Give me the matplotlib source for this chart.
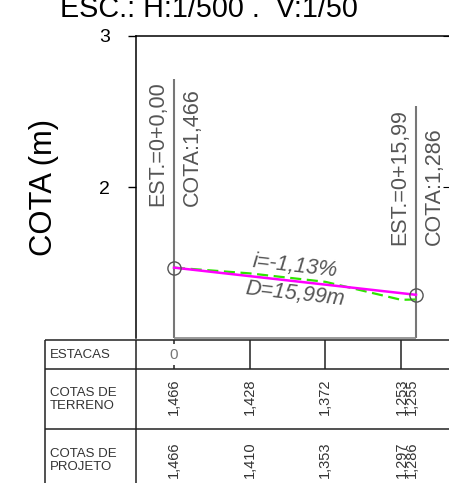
import numpy as np
import matplotlib
matplotlib.use("Agg")
import matplotlib.pyplot as plt

plt.rcParams['font.family'] = ['Liberation Sans', 'DejaVu Sans']

# dados do perfil
dist = [0, 5, 10, 15, 15.99]
cota_terreno = [1.466, 1.428, 1.372, 1.253, 1.255]
cota_projeto = [1.466, 1.410, 1.353, 1.297, 1.286]
estacas_x = [0, 5, 10, 15]
estacas_lbl = ['0', '', '', '']
pontos_x = [0, 15.99]
pontos_y = [1.466, 1.286]
est_lbl = ['EST.=0+0,00', 'EST.=0+15,99']
cota_lbl = ['COTA:1,466', 'COTA:1,286']
texto_base = [1.874, 1.616]
linha_topo = [2.715, 2.536]
inclinacao = 'i=-1,13%'
distancia = 'D=15,99m'
titulo = 'ESC.: H:1/500 .  V:1/50'

W, H = 449, 483
pxm = 242 / 15.99          # px por metro
x0 = 174                   # px da estaca 0

fig = plt.figure(figsize=(W / 100, H / 100), dpi=100)

# eixo da tabela (figura inteira, x em metros, y em px)
tab = fig.add_axes([0, 0, 1, 1])
tab.set_xlim(-x0 / pxm, (W - x0) / pxm)
tab.set_ylim(H, 0)
tab.axis('off')

# eixo principal
ax = fig.add_axes([136 / W, (H - 338) / H, (W - 136) / W, (338 - 36) / H])
ax.set_facecolor('none')
ax.set_xlim((136 - x0) / pxm, (W - x0) / pxm)
ax.set_ylim(1, 3)
ax.set_yticks([2, 3])
ax.set_xticks([])
ax.tick_params(axis='y', length=6, width=1, pad=13, labelsize=14)
for s in ['right', 'bottom']:
    ax.spines[s].set_visible(False)
for s in ['left', 'top']:
    ax.spines[s].set_linewidth(1.1)
sec = ax.secondary_yaxis('right')
sec.set_yticks([2, 3])
sec.tick_params(direction='in', length=4, labelright=False)
sec.spines['right'].set_visible(False)

# linhas das estacas
ax.vlines(pontos_x, 1, linha_topo, color='#777777', lw=1.5, zorder=1)
ax.hlines(1, pontos_x[0], pontos_x[1], color='#888888', lw=1.2, clip_on=False)

ax.plot(dist, cota_terreno, color='#2ee600', lw=1.6, dashes=(5, 2.5), zorder=3)
ax.plot(pontos_x, pontos_y, color='#ff00ff', lw=1.8, zorder=4)
ax.plot(pontos_x, pontos_y, 'o', mfc='none', mec='#555555', ms=9.5, mew=1, zorder=5)

for x, yb, e, c in zip(pontos_x, texto_base, est_lbl, cota_lbl):
    ax.annotate(e, (x, yb), xytext=(-11.5, 0), textcoords='offset points',
                rotation=90, ha='center', va='bottom', fontsize=15.5, color='#555555')
    ax.annotate(c, (x, yb), xytext=(13, 0), textcoords='offset points',
                rotation=90, ha='center', va='bottom', fontsize=15.5, color='#555555')

xm = np.mean(pontos_x)
ym = np.mean(pontos_y)
ang_d = np.degrees(np.arctan2(pontos_y[1] - pontos_y[0], pontos_x[1] - pontos_x[0]))
ang = ax.transData.transform_angles(np.array([ang_d]), np.array([[xm, ym]]))[0]
ax.annotate(inclinacao, (xm, ym), xytext=(0, 10.5), textcoords='offset points',
            rotation=ang, rotation_mode='anchor', ha='center', va='center',
            fontsize=15.5, style='italic', color='#555555')
ax.annotate(distancia, (xm, ym), xytext=(0, -9.5), textcoords='offset points',
            rotation=ang, rotation_mode='anchor', ha='center', va='center',
            fontsize=15.5, style='italic', color='#555555')

# tabela
xl = (45 - x0) / pxm
xa = (136 - x0) / pxm
xr = (W - x0) / pxm
tab.hlines([340, 369, 429], xl, xr, color='#222222', lw=1.1)
tab.vlines([xl, xa], 340, H, color='#222222', lw=1.1)
tab.vlines(estacas_x[1:], 340, 369, color='#222222', lw=1.1)
tab.vlines(estacas_x[0], 340, 344, color='#222222', lw=1.1)
tab.vlines(estacas_x[0], 365, 369, color='#222222', lw=1.1)
for x, l in zip(estacas_x, estacas_lbl):
    tab.text(x, 355, l, ha='center', va='center', fontsize=11, color='#777777')

tab.text(xl + 0.33, 354.5, 'ESTACAS', ha='left', va='center', fontsize=9.5, color='#333333')
tab.text(xl + 0.33, 399.5, 'COTAS DE\nTERRENO', ha='left', va='center', fontsize=9.5,
         color='#333333', linespacing=1.15)
tab.text(xl + 0.33, 460.5, 'COTAS DE\nPROJETO', ha='left', va='center', fontsize=9.5,
         color='#333333', linespacing=1.15)

desloc = [0, 0, 0, 1, -4]
for d, vt, vp, o in zip(dist, cota_terreno, cota_projeto, desloc):
    tab.annotate(f"{vt:.3f}".replace('.', ','), (d, 397), xytext=(o * 0.72, 0),
                 textcoords='offset points', rotation=90, ha='center', va='center',
                 fontsize=10.5, color='#333333')
    tab.annotate(f"{vp:.3f}".replace('.', ','), (d, 460), xytext=(o * 0.72, 0),
                 textcoords='offset points', rotation=90, ha='center', va='center',
                 fontsize=10.5, color='#333333')

fig.text(209 / W, 1 - 17 / H, titulo, ha='center', va='baseline', fontsize=20.7)
fig.text(44 / W, 1 - 187.5 / H, 'COTA (m)', rotation=90, ha='center', va='center',
         fontsize=22.3)

fig.savefig('out.png', dpi=100)
